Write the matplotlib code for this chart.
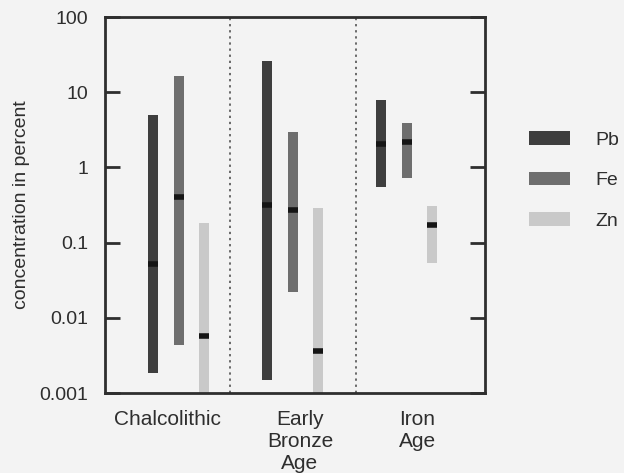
import numpy as np
import matplotlib.pyplot as plt
from matplotlib.patches import Patch

plt.rcParams['font.family'] = ['Liberation Sans', 'DejaVu Sans']

# data (concentration in percent)
periods = ['Chalcolithic', 'Early\nBronze\nAge', 'Iron\nAge']
elements = ['Pb', 'Fe', 'Zn']
pb_low = [0.00185, 0.0015, 0.55]
pb_high = [5.0, 26.0, 7.9]
pb_med = [0.052, 0.32, 2.05]
fe_low = [0.0043, 0.022, 0.72]
fe_high = [16.4, 2.96, 3.9]
fe_med = [0.40, 0.27, 2.18]
zn_low = [0.001, 0.001, 0.054]
zn_high = [0.18, 0.29, 0.31]
zn_med = [0.0057, 0.0036, 0.17]

colors = ['#3e3e3e', '#6e6e6e', '#c9c9c9']
bg = '#f3f3f3'
ink = '#2e2e2e'
fs = 14

fig = plt.figure(figsize=(6.24, 4.73), dpi=100, facecolor=bg)
ax = fig.add_axes([0.168, 0.169, 0.609, 0.795], facecolor=bg)

x = np.arange(len(periods))
offsets = [-0.23, 0.0, 0.22]
width = 0.088
series = [(pb_low, pb_high, pb_med), (fe_low, fe_high, fe_med), (zn_low, zn_high, zn_med)]
for (lo, hi, med), off, c in zip(series, offsets, colors):
    lo = np.array(lo)
    hi = np.array(hi)
    ax.bar(x + off, hi - lo, bottom=lo, width=width, color=c, edgecolor='none', zorder=2)
    ax.hlines(med, x + off - width / 2, x + off + width / 2, colors='#151515', lw=4, zorder=3)

# period separators
for sx in [0.447, 1.553]:
    ax.axvline(sx, color='#444444', ls=(0, (1.5, 2.5)), lw=1.1, zorder=1)

ax.set_yscale('log')
ax.set_ylim(0.001, 100)
ax.set_xlim(-0.65, 2.68)
ax.set_yticks([0.001, 0.01, 0.1, 1, 10, 100])
ax.set_yticklabels(['0.001', '0.01', '0.1', '1', '10', '100'])
ax.yaxis.set_minor_locator(plt.NullLocator())
ax.tick_params(axis='y', which='major', direction='in', length=11, width=2,
               color=ink, right=True, labelsize=fs, labelcolor=ink, pad=12)
ax.set_xticks([-0.1, 1.06, 2.09])
ax.set_xticklabels(periods)
ax.tick_params(axis='x', length=0, labelsize=fs + 1, labelcolor=ink, pad=12)
for s in ax.spines.values():
    s.set_linewidth(2)
    s.set_color(ink)

ax.set_ylabel('concentration in percent', fontsize=fs, color=ink, labelpad=7)

handles = [Patch(facecolor=c, edgecolor='none', label=e) for c, e in zip(colors, elements)]
leg = ax.legend(handles=handles, loc='center left', bbox_to_anchor=(1.07, 0.565),
                frameon=False, fontsize=fs, handlelength=2.1, handleheight=0.7,
                handletextpad=1.3, labelspacing=1.17, labelcolor=ink)

fig.savefig('out.png', dpi=100, facecolor=bg)
